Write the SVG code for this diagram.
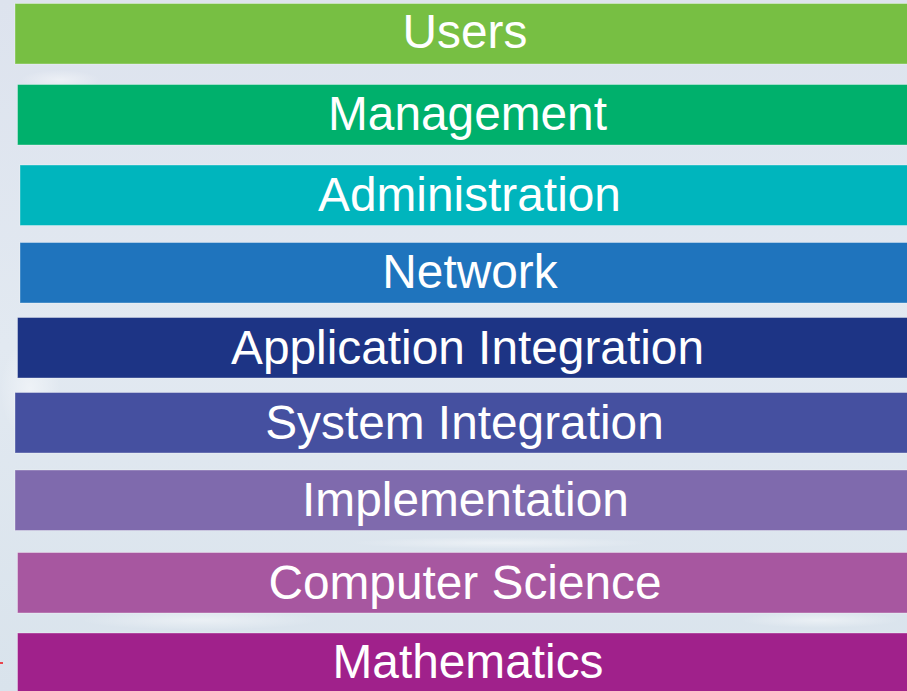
<svg xmlns="http://www.w3.org/2000/svg" width="907" height="691" viewBox="0 0 907 691">
  <defs>
    <linearGradient id="bg" x1="0" y1="0" x2="0" y2="1">
      <stop offset="0" stop-color="#dde3ee"/>
      <stop offset="0.5" stop-color="#e2e9f1"/>
      <stop offset="1" stop-color="#d9e3ec"/>
    </linearGradient>
    <radialGradient id="glow" cx="0.5" cy="0.5" r="0.5">
      <stop offset="0" stop-color="#ffffff" stop-opacity="0.45"/>
      <stop offset="1" stop-color="#ffffff" stop-opacity="0"/>
    </radialGradient>
  </defs>
  <style>
    .bar { stroke: #ffffff; stroke-opacity: 0.35; stroke-width: 1; }
    .label { font-family: "Liberation Sans", Arial, sans-serif; font-size: 47.8px; fill: #ffffff; text-anchor: middle; }
  </style>

  <!-- backdrop -->
  <rect x="0" y="0" width="907" height="691" fill="url(#bg)"/>
  <ellipse cx="60" cy="80" rx="40" ry="10" fill="url(#glow)"/>
  <ellipse cx="30" cy="390" rx="30" ry="50" fill="url(#glow)"/>
  <ellipse cx="200" cy="620" rx="120" ry="10" fill="url(#glow)"/>
  <ellipse cx="820" cy="620" rx="80" ry="8" fill="url(#glow)"/>
  <ellipse cx="500" cy="543" rx="150" ry="6" fill="url(#glow)"/>

  <!-- small red tick at the left edge -->
  <rect x="0" y="662" width="3" height="2" fill="#e8464e"/>

  <!-- layer stack -->
  <g id="users">
    <rect class="bar" x="15" y="3.5" width="900" height="60.5" fill="#77bf43"/>
    <text class="label" x="465" y="48">Users</text>
  </g>
  <g id="management">
    <rect class="bar" x="17.5" y="84.5" width="900" height="60.5" fill="#00b06c"/>
    <text class="label" x="467.5" y="130">Management</text>
  </g>
  <g id="administration">
    <rect class="bar" x="20" y="165" width="900" height="60.5" fill="#00b5bd"/>
    <text class="label" x="469.5" y="210.5">Administration</text>
  </g>
  <g id="network">
    <rect class="bar" x="20" y="242.5" width="900" height="60.5" fill="#1f74bd"/>
    <text class="label" x="470" y="288">Network</text>
  </g>
  <g id="application-integration">
    <rect class="bar" x="17.5" y="317.5" width="900" height="60.5" fill="#1d3485"/>
    <text class="label" x="467.5" y="363.5">Application Integration</text>
  </g>
  <g id="system-integration">
    <rect class="bar" x="15" y="392.5" width="900" height="60.5" fill="#4550a0"/>
    <text class="label" x="464.5" y="438.5">System Integration</text>
  </g>
  <g id="implementation">
    <rect class="bar" x="15" y="470" width="900" height="60.5" fill="#7f6aad"/>
    <text class="label" x="465.5" y="516">Implementation</text>
  </g>
  <g id="computer-science">
    <rect class="bar" x="17.5" y="552.5" width="900" height="60.5" fill="#a757a0"/>
    <text class="label" x="465" y="598.5">Computer Science</text>
  </g>
  <g id="mathematics">
    <rect class="bar" x="17.5" y="633" width="900" height="62" fill="#a0218b"/>
    <text class="label" x="468" y="678">Mathematics</text>
  </g>

  <!-- no connectors in this stack -->
  <g id="connectors"/>
</svg>
